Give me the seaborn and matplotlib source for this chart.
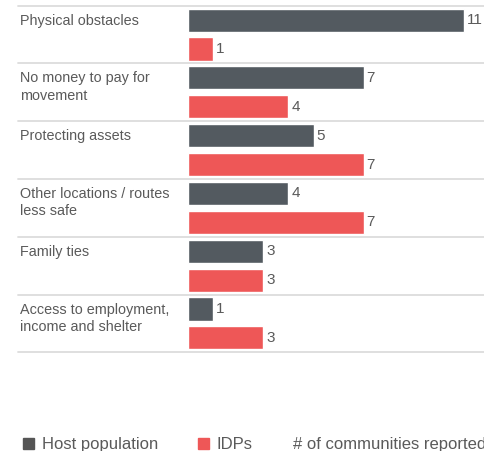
import pandas as pd
import matplotlib.pyplot as plt
import matplotlib.transforms as mtransforms
from matplotlib.patches import Rectangle
import seaborn as sns

sns.set_theme(style="white")
plt.rcParams['font.family'] = ['Liberation Sans', 'DejaVu Sans']

# data
reasons = ["Physical obstacles",
           "No money to pay for\nmovement",
           "Protecting assets",
           "Other locations / routes\nless safe",
           "Family ties",
           "Access to employment,\nincome and shelter"]
host = [11, 7, 5, 4, 3, 1]
idps = [1, 4, 7, 7, 3, 3]
groups = ["Host population", "IDPs"]
colors = ["#535a60", "#ee5757"]
text_col = "#5a5a5a"

df = pd.DataFrame({
    'reason': reasons * 2,
    'count': host + idps,
    'group': [groups[0]] * len(reasons) + [groups[1]] * len(reasons),
})

fig = plt.figure(figsize=(4.84, 4.51), dpi=100)
W, H = 484, 451
# axes: bars start at x=188 px, rows between y=5.7 and y=352.3 px
ax = fig.add_axes([188 / W, (H - 352.3) / H, (W - 188) / W, 346.6 / H])

sns.barplot(data=df, y='reason', x='count', hue='group', orient='h',
            palette=colors, width=1.0, gap=0.2, saturation=1,
            legend=False, ax=ax)

ax.set_xlim(0, (W - 188) / 25.1)
ax.set_ylim(len(reasons) - 0.5, -0.5)
ax.set_xlabel('')
ax.set_ylabel('')
ax.set_xticks([])
ax.set_yticks([])
for s in ax.spines.values():
    s.set_visible(False)

for cont in ax.containers:
    ax.bar_label(cont, fmt='%g', padding=2, fontsize=11, color=text_col)

# row separators and category labels (x in figure coords, y in data)
trans = mtransforms.blended_transform_factory(fig.transFigure, ax.transData)
for i in range(len(reasons) + 1):
    ax.plot([18 / W, 1], [i - 0.5, i - 0.5], transform=trans, clip_on=False,
            color="#dcdcdc", lw=1.3)
for i, r in enumerate(reasons):
    ax.text(20 / W, i - 0.5 + 8 / 57.8, r, transform=trans, ha='left', va='top',
            fontsize=10.4, color=text_col, linespacing=1.3)

# legend row at the bottom
leg = [(23, "#555555", "Host population"), (198, colors[1], "IDPs")]
for x, c, lab in leg:
    fig.patches.append(Rectangle((x / W, 2 / H), 11 / W, 11 / H, color=c,
                                 transform=fig.transFigure))
    fig.text((x + 19) / W, 2 / H, lab, fontsize=12, color=text_col, va='baseline')
fig.text(293 / W, 2 / H, "# of communities reported", fontsize=12,
         color=text_col, va='baseline')

fig.savefig('out.png', dpi=100)
